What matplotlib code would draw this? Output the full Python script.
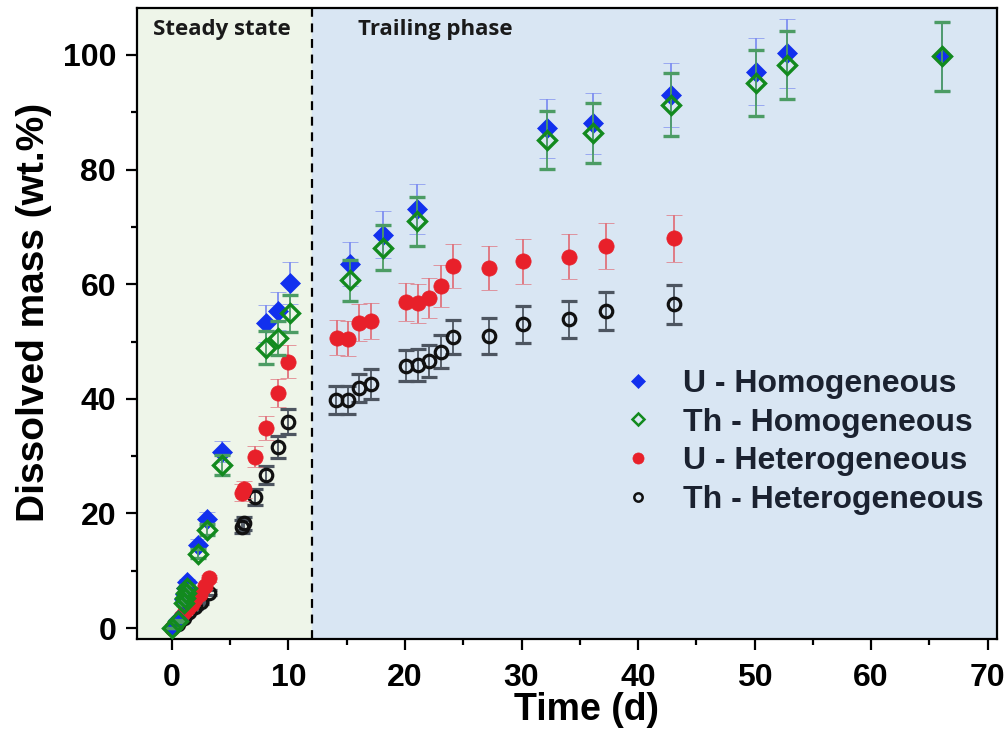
import matplotlib
matplotlib.use("Agg")
import matplotlib.pyplot as plt
from matplotlib.lines import Line2D
from matplotlib.ticker import MultipleLocator

# ---------------- data ----------------
t_uhom = [0, 0.5, 1.0, 1.1, 1.2, 1.3, 2.2, 3.0, 4.3, 8.1, 9.1, 10.1, 15.3, 18.1, 21.0,
          32.2, 36.1, 42.8, 50.1, 52.8, 66.1]
y_uhom = [0, 1.5, 5.0, 6.0, 7.0, 8.0, 14.5, 19.0, 30.8, 53.2, 55.3, 60.2, 63.5, 68.6, 73.1,
          87.2, 88.1, 93.0, 97.1, 100.3, 99.8]
e_uhom = [0, 0.2, 0.4, 0.5, 0.5, 0.6, 1.0, 1.2, 1.8, 3.2, 3.3, 3.6, 3.8, 4.1, 4.4,
          5.2, 5.3, 5.6, 5.8, 6.0, 6.0]

t_thhom = t_uhom
y_thhom = [0, 1.2, 4.4, 5.3, 6.2, 7.0, 13.0, 17.2, 28.5, 48.9, 50.6, 54.9, 60.7, 66.4, 71.0,
           85.2, 86.4, 91.3, 95.1, 98.3, 99.8]
e_thhom = [0, 0.2, 0.3, 0.4, 0.4, 0.5, 0.8, 1.0, 1.7, 2.9, 3.0, 3.3, 3.6, 4.0, 4.3,
           5.1, 5.2, 5.5, 5.7, 5.9, 6.0]

t_uhet = [0, 0.4, 0.8, 1.1, 1.4, 1.7, 2.0, 2.4, 2.8, 3.2, 6.0, 6.2, 7.1, 8.1, 9.1, 10.0,
          14.2, 15.1, 16.05, 17.1, 20.1, 21.1, 22.1, 23.1, 24.1, 27.2, 30.1, 34.1, 37.25, 43.1]
y_uhet = [0, 1.0, 2.0, 3.0, 3.5, 4.2, 5.0, 6.0, 7.3, 8.7, 23.6, 24.2, 29.9, 34.9, 41.0, 46.5,
          50.7, 50.5, 53.3, 53.6, 56.9, 56.7, 57.6, 59.7, 63.2, 62.8, 64.0, 64.8, 66.7, 68.0]
e_uhet = [0, 0.1, 0.2, 0.2, 0.3, 0.3, 0.3, 0.4, 0.5, 0.6, 1.5, 1.5, 1.8, 2.1, 2.5, 2.9,
          3.0, 3.0, 3.2, 3.2, 3.4, 3.4, 3.5, 3.6, 3.8, 3.8, 3.9, 3.9, 4.0, 4.1]

t_thhet = [0, 0.5, 1.0, 1.5, 2.0, 2.5, 3.2, 6.0, 6.2, 7.1, 8.1, 9.1, 10.0,
           14.1, 15.1, 16.05, 17.1, 20.1, 21.1, 22.1, 23.1, 24.1, 27.2, 30.1, 34.1, 37.25, 43.1]
y_thhet = [0, 0.8, 1.8, 2.8, 3.6, 4.5, 6.2, 17.7, 18.3, 22.9, 26.7, 31.6, 36.0,
           39.8, 39.8, 41.9, 42.6, 45.8, 45.9, 46.6, 48.2, 50.8, 51.0, 53.0, 53.9, 55.4, 56.5]
e_thhet = [0, 0.1, 0.1, 0.2, 0.2, 0.3, 0.4, 1.1, 1.1, 1.4, 1.6, 1.9, 2.2,
           2.4, 2.4, 2.5, 2.6, 2.7, 2.8, 2.8, 2.9, 3.0, 3.1, 3.2, 3.2, 3.3, 3.4]

labels = ["U - Homogeneous", "Th - Homogeneous", "U - Heterogeneous", "Th - Heterogeneous"]
phase_boundary = 12
xticks = [0, 10, 20, 30, 40, 50, 60, 70]
yticks = [0, 20, 40, 60, 80, 100]

# ---------------- figure ----------------
plt.rcParams['font.family'] = ['Liberation Sans', 'DejaVu Sans']
fig = plt.figure(figsize=(10.06, 7.35), dpi=100)
ax = fig.add_axes([137/1006, 1-639/735, (997-137)/1006, (639-8)/735])

xmin, xmax = -3.0, 70.8
ax.set_xlim(xmin, xmax)
ax.set_ylim(-1.9, 108.2)
ax.axvspan(xmin, phase_boundary, color='#eef5e9', zorder=0)
ax.axvspan(phase_boundary, xmax, color='#d9e6f3', zorder=0)
ax.axvline(phase_boundary, color='black', ls=(0, (4, 3)), lw=1.6, zorder=1)

blue, green, red, black = '#1230ee', '#128a1e', '#e8202a', '#111111'
cap = 5.5
eb = dict(elinewidth=1.3, capsize=cap, capthick=1.3)

ax.errorbar(t_thhet, y_thhet, yerr=e_thhet, fmt='o', ms=9, mfc='none', mec=black, mew=2.3,
            ecolor='#4d5560', zorder=3, **eb)
ax.errorbar(t_uhet, y_uhet, yerr=e_uhet, fmt='o', ms=11, mfc=red, mec=red, mew=0.5,
            ecolor='#e0727c', zorder=4, **eb)
ax.errorbar(t_uhom, y_uhom, yerr=e_uhom, fmt='D', ms=10.5, mfc=blue, mec=blue, mew=0.5,
            ecolor='#7f8ff0', zorder=5, **eb)
ax.errorbar(t_thhom, y_thhom, yerr=e_thhom, fmt='D', ms=9, mfc='none', mec=green, mew=2.4,
            ecolor='#4c9c64', zorder=6, **eb)

ax.set_xticks(xticks)
ax.set_yticks(yticks)
ax.xaxis.set_minor_locator(MultipleLocator(5))
ax.yaxis.set_minor_locator(MultipleLocator(10))
ax.tick_params(which='major', direction='out', length=8, width=1.6, labelsize=23,
               top=False, right=False)
ax.tick_params(axis='x', which='major', pad=9)
ax.tick_params(axis='y', which='major', pad=7)
ax.tick_params(which='minor', direction='out', length=4, width=1.6, top=False, right=False)
for lab in ax.get_xticklabels() + ax.get_yticklabels():
    lab.set_fontweight('bold')
for sp in ax.spines.values():
    sp.set_linewidth(1.6)

ax.set_xlabel("Time (d)", fontsize=27, fontweight='bold')
ax.xaxis.set_label_coords(0.523, -0.084, transform=ax.transAxes)
ax.xaxis.label.set_va('top')
ax.set_ylabel("Dissolved mass (wt.%)", fontsize=28, fontweight='bold')
ax.yaxis.set_label_coords(-0.0988, 0.518, transform=ax.transAxes)

ax.text(-1.6, 104.5, "Steady state", fontsize=16, fontweight='bold', family=['Open Sans', 'DejaVu Sans'],
        color='#1a1a1a', ha='left', va='center')
ax.text(16.0, 104.5, "Trailing phase", fontsize=16, fontweight='bold', family=['Open Sans', 'DejaVu Sans'],
        color='#1a1a1a', ha='left', va='center')

handles = [
    Line2D([], [], ls='none', marker='D', ms=7.5, mfc=blue, mec=blue, mew=0.5),
    Line2D([], [], ls='none', marker='D', ms=6.5, mfc='none', mec=green, mew=1.8),
    Line2D([], [], ls='none', marker='o', ms=8, mfc=red, mec=red, mew=0.5),
    Line2D([], [], ls='none', marker='o', ms=6, mfc='none', mec=black, mew=1.8),
]
leg = ax.legend(handles, labels, loc='upper left', bbox_to_anchor=(622/1006, 1-369/735),
                bbox_transform=fig.transFigure, frameon=False, fontsize=23,
                handlelength=1.0, handletextpad=0.9, labelspacing=0.27, borderaxespad=0,
                borderpad=0)
for txt in leg.get_texts():
    txt.set_fontweight('bold')
    txt.set_color('#1b2230')

fig.savefig("out.png", dpi=100)
